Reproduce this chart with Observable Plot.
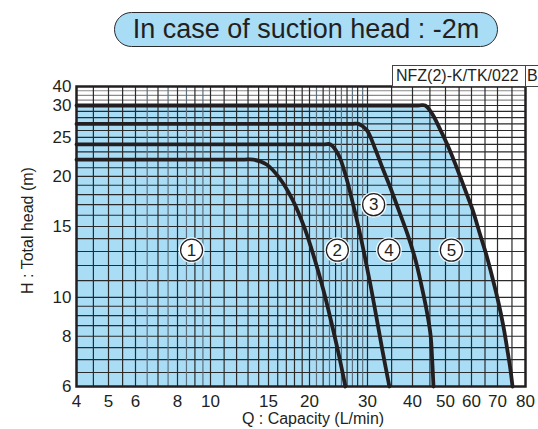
<!DOCTYPE html>
<html>
<head>
<meta charset="utf-8">
<script src="https://cdn.jsdelivr.net/npm/d3@7"></script>
<script src="https://cdn.jsdelivr.net/npm/@observablehq/plot@0.6"></script>
<style>
  body { margin: 0; background: #fff; font-family: "Liberation Sans", Arial, Helvetica, sans-serif; color: #231f20; }
  #wrap { position: relative; width: 538px; height: 429px; overflow: hidden; }
  #chart { position: absolute; left: 0; top: 0; }
  #title { position: absolute; left: 114px; top: 12px; width: 384px; height: 35px; box-sizing: border-box;
           border: 1.5px solid #2a2a2a; border-radius: 17.5px; background: #a9ddf6;
           font-size: 27px; line-height: 32px; text-align: center; color: #231f20; white-space: nowrap; }
  .model { position: absolute; top: 65px; height: 22px; box-sizing: border-box; border: 1px solid #444;
           font-size: 16px; line-height: 20px; color: #231f20; background: #fff; white-space: nowrap; }
</style>
</head>
<body>
<div id="wrap">
  <div id="chart"></div>
  <div id="title">In case of suction head : -2m</div>
  <div class="model" style="left:392px;width:134px;padding-left:3px;">NFZ(2)-K/TK/022</div>
  <div class="model" style="left:525px;width:13px;padding-left:1px;border-right:none;">B</div>
</div>
<script>
// ---- data ----
const xTicks = [4, 5, 6, 8, 10, 15, 20, 30, 40, 50, 60, 70, 80];
const yTicks = [6, 8, 10, 15, 20, 25, 30, 40];

// grid lines (capacity, L/min) and (head, m)
const xGridDark = [4.5, 5, 5.5, 6, 7, 8, 9, 10, 11, 12, 13, 14, 15, 16, 17, 18, 19, 20, 22, 24, 26, 28, 30, 35, 40, 45, 50, 55, 60, 65, 70, 75];
const xGridLight = [6.5, 7.5, 8.5, 9.5, 21, 23, 25, 27, 29];
const yGridDark = [6.5, 7, 7.5, 8, 8.5, 9, 9.5, 10, 11, 12, 13, 14, 15, 16, 17, 18, 19, 20, 21, 22, 23, 24, 25, 26, 27, 28, 29, 30];
const yGridLight = [32.5, 35, 37.5];

// performance curves: capacity Q (L/min) vs total head H (m)
const c1Q = [4, 12.5, 13.5, 14.8, 16.2, 17.75, 19.3, 20.7, 22.06, 23.3, 24.5, 25.7];
const c1H = [22, 22, 22, 21.4, 19.8, 17.5, 14.9, 12.5, 10.4, 8.67, 7.25, 6];
const c2Q = [4, 22.0, 23.16, 24.5, 25.7, 27.0, 28.2, 29.4, 30.6, 31.8, 33.0, 34.5];
const c2H = [24, 24, 24, 22.6, 20.2, 17.3, 14.9, 12.7, 10.7, 8.87, 7.38, 6];
const c3Q = [4, 26.8, 28.2, 29.8, 31.4, 33.0, 34.75, 36.6, 38.7, 40.8, 42.5, 44.0, 45.2, 45.7, 46.1];
const c3H = [27, 27, 27, 26.1, 23.6, 21.0, 18.7, 16.5, 14.4, 12.4, 10.7, 9.29, 8.05, 6.97, 6];
const c4Q = [4, 41.5, 43.6, 45.7, 48.3, 51.1, 54.0, 57.1, 60.4, 62.9, 65.6, 67.9, 70.3, 72.0, 73.4, 74.5, 75.2];
const c4H = [30, 30, 30, 28.6, 26.1, 23.6, 21.1, 18.7, 16.5, 14.5, 12.7, 11.2, 9.72, 8.47, 7.38, 6.58, 6];

// circled curve labels
const labelText = ["1", "2", "3", "4", "5"];
const labelQ = [8.8, 24.3, 31.2, 34.4, 52.1];
const labelH = [13.1, 13.1, 17.0, 13.1, 13.1];

// ---- build tables ----
const toRows = (id, Q, H) => Q.map((q, i) => ({id, q, h: H[i]}));
const curves = [
  ...toRows(1, c1Q, c1H),
  ...toRows(2, c2Q, c2H),
  ...toRows(3, c3Q, c3H),
  ...toRows(4, c4Q, c4H)
];
const envelope = toRows(4, c4Q, c4H);
const labels = labelText.map((t, i) => ({t, q: labelQ[i], h: labelH[i]}));

const ink = "#231f20";
const blue = "#a9ddf6";

const chart = Plot.plot({
  width: 538,
  height: 429,
  marginLeft: 76,
  marginRight: 13,
  marginTop: 86,
  marginBottom: 43,
  style: {background: "transparent", fontFamily: "'Liberation Sans', Arial, Helvetica, sans-serif", color: ink},
  x: {type: "log", domain: xTicks, range: [76, 108, 135, 177, 210, 268, 309, 367, 412, 445, 471, 497, 525], axis: null},
  y: {type: "log", domain: [6, 30, 40], range: [386, 105, 86], axis: null},
  marks: [
    Plot.areaY(envelope, {x: "q", y1: 6, y2: "h", fill: blue, curve: "catmull-rom"}),
    Plot.ruleY(yGridLight, {x1: 4, x2: 80, stroke: "#8a8a8a", strokeWidth: 1.2}),
    Plot.ruleY(yGridDark, {x1: 4, x2: 80, stroke: "#2a2a2a", strokeWidth: 1.2}),
    Plot.ruleX(xGridLight, {y1: 6, y2: 40, stroke: "#5d6f7c", strokeWidth: 1.2}),
    Plot.ruleX(xGridDark, {y1: 6, y2: 40, stroke: "#2a2a2a", strokeWidth: 1.2}),
    Plot.line(curves, {x: "q", y: "h", z: "id", stroke: ink, strokeWidth: 3.8, curve: "catmull-rom", strokeLinejoin: "round"}),
    Plot.frame({stroke: ink, strokeWidth: 2.5}),
    Plot.dot(labels, {x: "q", y: "h", r: 13, fill: "#eef8fd", stroke: "none"}),
    Plot.dot(labels, {x: "q", y: "h", r: 11, fill: "white", stroke: ink, strokeWidth: 1.3}),
    Plot.text(labels, {x: "q", y: "h", text: "t", fontSize: 17, fill: ink}),
    Plot.text(xTicks, {x: d => d, y: 6, dy: 15, text: d => String(d), fontSize: 17, fill: ink}),
    Plot.text(yTicks, {x: 4, y: d => d, dx: -5, text: d => String(d), textAnchor: "end", fontSize: 17, fill: ink}),
    Plot.text(["H : Total head (m)"], {frameAnchor: "left", dx: -49, dy: -6, rotate: -90, textAnchor: "middle", lineAnchor: "middle", fontSize: 16, fill: ink}),
    Plot.text(["Q : Capacity (L/min)"], {frameAnchor: "bottom", dx: 12, dy: 32, textAnchor: "middle", lineAnchor: "middle", fontSize: 16, fill: ink})
  ]
});
document.getElementById("chart").appendChild(chart);
</script>
</body>
</html>
